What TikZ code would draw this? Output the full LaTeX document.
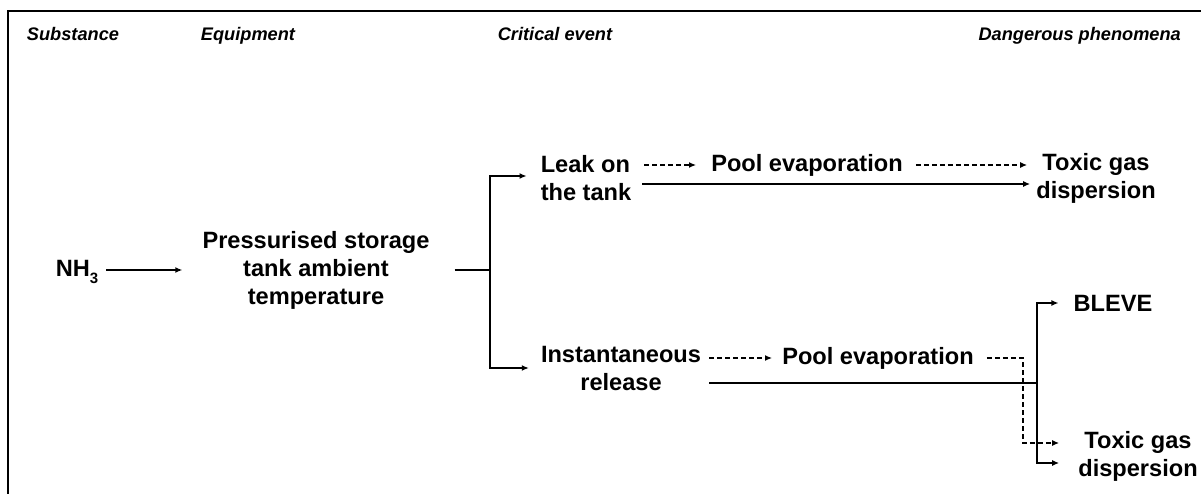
\documentclass[tikz,border=0pt]{standalone}
\usepackage{fontspec}
\setmainfont{Liberation Sans}
\usetikzlibrary{arrows.meta}
\begin{document}
\begin{tikzpicture}[x=1pt,y=-1pt,
  hdr/.style={inner sep=0pt,anchor=base,font=\fontsize{18.2}{22}\selectfont\bfseries\itshape},
  txt/.style={inner sep=0pt,align=center,font=\fontsize{23.6}{28}\selectfont\bfseries},
  solidline/.style={line width=1.8pt},
  arr/.style={line width=1.8pt,-{Latex[length=7pt,width=6pt]}},
  darr/.style={line width=1.4pt,dash pattern=on 5pt off 3pt,-{Latex[length=7pt,width=6pt]}}]
\useasboundingbox (0,0) rectangle (1201,494);
% frame
\draw[line width=2pt] (8,494) -- (8,11) -- (1201,11);
% headers
\node[hdr] (h1) at (73,41) {Substance};
\node[hdr] (h2) at (248,41) {Equipment};
\node[hdr] (h3) at (555,41) {Critical event};
\node[hdr,anchor=base east] (h4) at (1181,41) {Dangerous phenomena};
% nodes
\node[txt] (nh3) at (77,272) {NH\raisebox{-0.3em}{\fontsize{15}{15}\selectfont 3}};
\node[txt] (equip) at (316,270) {Pressurised storage\\tank ambient\\temperature};
\node[txt,align=left] (leak) at (586,178) {Leak on\\the tank};
\node[txt] (inst) at (621,368) {Instantaneous\\release};
\node[txt] (pool1) at (807,165) {Pool evaporation};
\node[txt] (pool2) at (878,358) {Pool evaporation};
\node[txt] (tox1) at (1096,178) {Toxic gas\\dispersion};
\node[txt] (bleve) at (1113,303) {BLEVE};
\node[txt] (tox2) at (1138,456) {Toxic gas\\dispersion};
% branch points
\coordinate (b1) at (490,270);
\coordinate (b2) at (1037,383);
% connectors
\draw[arr] ([xshift=8pt]nh3.east |- equip.west) -- ([xshift=-20pt]equip.west);
\draw[solidline] ([xshift=25pt]equip.east) -- (b1);
\draw[arr] (b1) |- ([xshift=-14pt,yshift=2pt]leak.west);
\draw[arr] (b1) |- ([xshift=-12pt]inst.west);
\draw[darr] ([xshift=13pt]leak.east |- pool1.west) -- ([xshift=-15pt]pool1.west);
\draw[darr] ([xshift=13pt]pool1.east) -- ([xshift=-9pt]tox1.west |- pool1.east);
\coordinate (ls) at ([xshift=11pt,yshift=-6pt]leak.east);
\draw[arr,shorten >=6pt] (ls) -- (ls -| tox1.west);
\draw[darr] ([xshift=8pt]inst.east |- pool2.west) -- ([xshift=-10pt]pool2.west);
\draw[solidline] ([xshift=8pt,yshift=-15pt]inst.east) -- (b2);
\draw[solidline] (b2) -- (b2 |- bleve.west);
\draw[arr] (b2) |- ([xshift=-15pt]bleve.west);
\draw[arr] (b2) |- ([xshift=-19pt,yshift=-7pt]tox2.west);
\draw[darr] ([xshift=13pt]pool2.east) -- ++(36,0) |- ([xshift=-19pt,yshift=13pt]tox2.west);
\end{tikzpicture}
\end{document}
